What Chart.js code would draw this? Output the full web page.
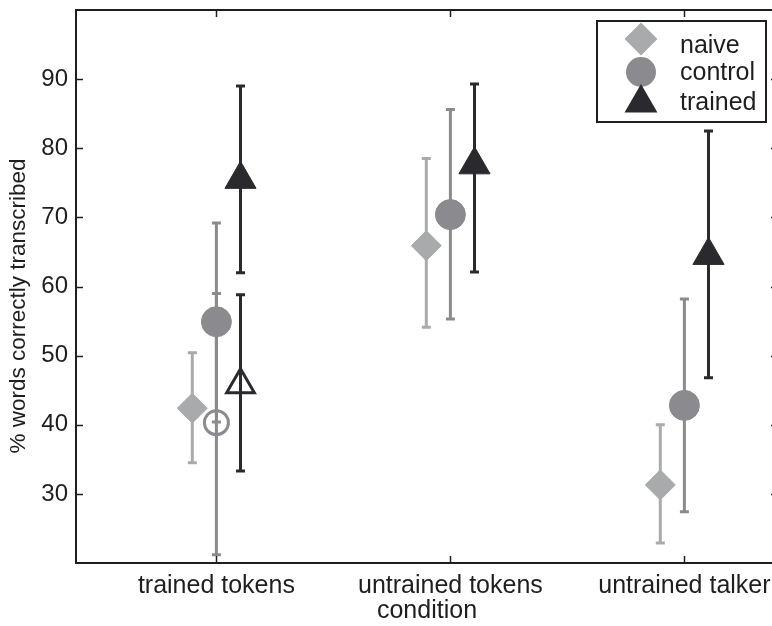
<!DOCTYPE html>
<html>
<head>
<meta charset="utf-8">
<script src="https://cdn.jsdelivr.net/npm/chart.js@4.4.1/dist/chart.umd.min.js"></script>
<style>
  html, body { margin: 0; padding: 0; background: #fff; overflow: hidden; }
  #wrap { width: 797px; height: 635px; margin-top: -9px; position: relative; }
</style>
</head>
<body>
<div id="wrap"><canvas id="chart"></canvas></div>
<script>
// condition labels and y ticks
var categories = ['trained tokens', 'untrained tokens', 'untrained talker'];
var yTicks = [30, 40, 50, 60, 70, 80, 90];

// group means and error bar ends
var naiveMean = [42.4, 65.9, 31.3];
var naiveLo = [34.5, 54.1, 22.9];
var naiveHi = [50.4, 78.5, 40.0];

var controlMean = [54.9, 70.4, 42.8];
var controlLo = [40.4, 55.3, 27.4];
var controlHi = [69.2, 85.6, 58.2];

var trainedMean = [75.5, 77.6, 64.5];
var trainedLo = [62.0, 62.1, 46.8];
var trainedHi = [89.0, 89.3, 82.5];

// open markers, trained tokens only
var controlOpenMean = [40.3];
var controlOpenLo = [21.2];
var controlOpenHi = [59.0];
var trainedOpenMean = [45.8];
var trainedOpenLo = [33.3];
var trainedOpenHi = [58.8];

var cNaive = '#a9aaac', cControl = '#8b8b8f', cTrained = '#2a2a2e';
var FONT = "'Liberation Sans', Arial, sans-serif";
var yTitle = '% words correctly transcribed';
var SHIFT = 9; // canvas is moved up by this much

function pts(mean, lo, hi, off) {
  return mean.map(function (m, i) {
    return {x: i + 1 + off, y: m, lo: lo[i], hi: hi[i]};
  });
}

// error bars under the markers
var errorBars = {
  id: 'errorBars',
  beforeDatasetsDraw: function (chart) {
    var ctx = chart.ctx, x = chart.scales.x, y = chart.scales.y;
    ctx.save();
    chart.data.datasets.forEach(function (ds) {
      ctx.strokeStyle = ds.barColor;
      ctx.lineWidth = 3;
      ds.data.forEach(function (p) {
        var px = x.getPixelForValue(p.x);
        var t = y.getPixelForValue(p.hi), b = y.getPixelForValue(p.lo);
        ctx.beginPath();
        ctx.moveTo(px, t); ctx.lineTo(px, b);
        ctx.moveTo(px - 4.5, t); ctx.lineTo(px + 4.5, t);
        ctx.moveTo(px - 4.5, b); ctx.lineTo(px + 4.5, b);
        ctx.stroke();
      });
    });
    ctx.restore();
  }
};

// box, inward ticks, y title and legend
var frame = {
  id: 'frame',
  afterDraw: function (chart) {
    var ctx = chart.ctx, a = chart.chartArea;
    var x = chart.scales.x, y = chart.scales.y;
    ctx.save();
    ctx.strokeStyle = '#1e1e1e';
    ctx.lineWidth = 2;
    ctx.strokeRect(a.left, a.top, a.right - a.left, a.bottom - a.top);
    ctx.lineWidth = 1.5;
    ctx.beginPath();
    x.ticks.forEach(function (t) {
      var px = Math.round(x.getPixelForValue(t.value)) + 0.5;
      ctx.moveTo(px, a.bottom); ctx.lineTo(px, a.bottom - 7);
      ctx.moveTo(px, a.top); ctx.lineTo(px, a.top + 7);
    });
    y.ticks.forEach(function (t) {
      var py = Math.round(y.getPixelForValue(t.value)) + 0.5;
      ctx.moveTo(a.left, py); ctx.lineTo(a.left + 7, py);
      ctx.moveTo(a.right, py); ctx.lineTo(a.right - 7, py);
    });
    ctx.stroke();

    // y title, sits a little below the middle as in the source
    ctx.save();
    ctx.translate(19, 306 + SHIFT);
    ctx.rotate(-Math.PI / 2);
    ctx.fillStyle = '#1e1e1e';
    ctx.font = '22.5px ' + FONT;
    ctx.textAlign = 'center';
    ctx.textBaseline = 'middle';
    ctx.fillText(yTitle, 0, 0);
    ctx.restore();

    // legend
    var ly = SHIFT;
    ctx.fillStyle = '#fff';
    ctx.fillRect(597, 21 + ly, 169, 101);
    ctx.lineWidth = 2;
    ctx.strokeRect(597, 21 + ly, 169, 101);
    var rows = [[0, 39], [1, 72], [2, 103]];
    var textY = [46, 73, 103];
    rows.forEach(function (r, k) {
      var ds = chart.data.datasets[r[0]];
      ctx.fillStyle = ds.backgroundColor;
      ctx.strokeStyle = ds.borderColor;
      Chart.helpers.drawPoint(ctx, {pointStyle: ds.pointStyle, rotation: 0,
        radius: ds.legendRadius, borderWidth: 1}, 641, r[1] + ly);
      ctx.fillStyle = '#1e1e1e';
      ctx.font = '25px ' + FONT;
      ctx.textAlign = 'left';
      ctx.textBaseline = 'middle';
      ctx.fillText(ds.label, 680, textY[k] + ly);
    });
    ctx.restore();
  }
};

new Chart(document.getElementById('chart'), {
  type: 'scatter',
  data: {
    datasets: [
      {label: 'naive', data: pts(naiveMean, naiveLo, naiveHi, -0.103),
        pointStyle: 'rectRot', pointRadius: 15, legendRadius: 15,
        backgroundColor: cNaive, borderColor: cNaive, borderWidth: 1, barColor: cNaive},
      {label: 'control', data: pts(controlMean, controlLo, controlHi, 0),
        pointStyle: 'circle', pointRadius: 15, legendRadius: 14,
        backgroundColor: cControl, borderColor: cControl, borderWidth: 1, barColor: cControl},
      {label: 'trained', data: pts(trainedMean, trainedLo, trainedHi, 0.103),
        pointStyle: 'triangle', pointRadius: 18, legendRadius: 17,
        backgroundColor: cTrained, borderColor: cTrained, borderWidth: 1, barColor: cTrained},
      {label: 'control open', data: pts(controlOpenMean, controlOpenLo, controlOpenHi, 0),
        pointStyle: 'circle', pointRadius: 12,
        backgroundColor: 'rgba(0,0,0,0)', borderColor: cControl, borderWidth: 3, barColor: cControl},
      {label: 'trained open', data: pts(trainedOpenMean, trainedOpenLo, trainedOpenHi, 0.103),
        pointStyle: 'triangle', pointRadius: 16,
        backgroundColor: 'rgba(0,0,0,0)', borderColor: cTrained, borderWidth: 3, barColor: cTrained}
    ]
  },
  options: {
    responsive: true,
    maintainAspectRatio: false,
    animation: false,
    events: [],
    layout: {padding: {top: 1, right: 1, left: 0, bottom: 0}},
    plugins: {legend: {display: false}, tooltip: {enabled: false}},
    scales: {
      x: {
        type: 'linear', min: 0.4, max: 3.4,
        grid: {display: false, drawTicks: false}, border: {display: false},
        afterBuildTicks: function (s) { s.ticks = categories.map(function (c, i) { return {value: i + 1}; }); },
        afterFit: function (s) { s.height = 63; s.paddingLeft = 0; s.paddingRight = 0; },
        ticks: {
          color: '#1e1e1e', font: {family: FONT, size: 25}, padding: 8,
          maxRotation: 0, autoSkip: false,
          callback: function (v) { return categories[Math.round(v) - 1]; }
        },
        title: {display: true, text: 'condition', color: '#1e1e1e',
          font: {family: FONT, size: 25}, padding: {top: 0, bottom: 0}}
      },
      y: {
        min: 20, max: 100,
        grid: {display: false, drawTicks: false}, border: {display: false},
        afterBuildTicks: function (s) { s.ticks = yTicks.map(function (v) { return {value: v}; }); },
        afterFit: function (s) { s.width = 76; s.paddingTop = 0; s.paddingBottom = 0; },
        ticks: {color: '#1e1e1e', font: {family: FONT, size: 24}, padding: 8}
      }
    }
  },
  plugins: [errorBars, frame]
});
</script>
</body>
</html>
